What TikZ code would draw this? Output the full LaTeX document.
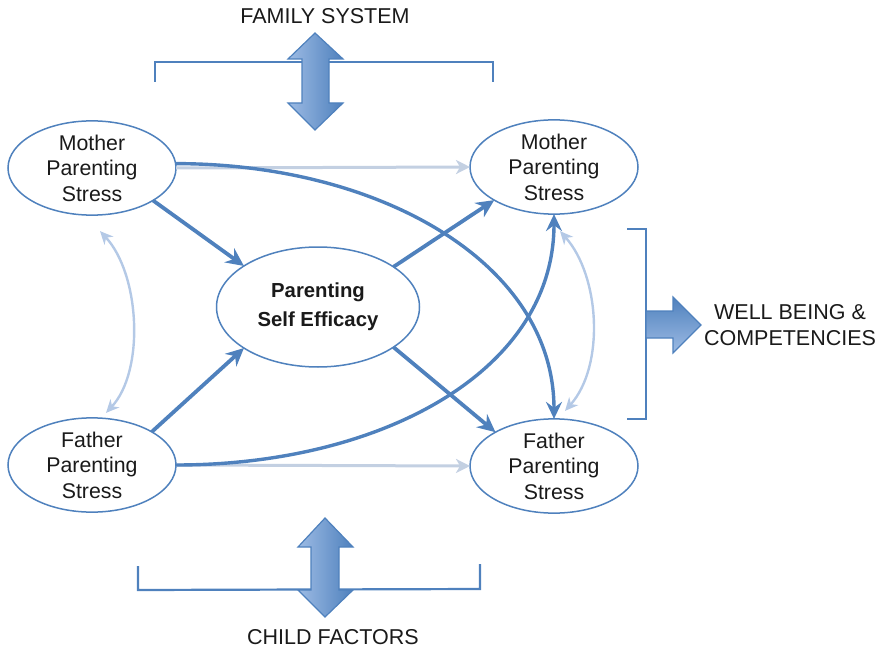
\documentclass[tikz,border=0pt]{standalone}
\usepackage{fontspec}
\setmainfont{Liberation Sans}
\usetikzlibrary{arrows.meta,shapes.geometric,calc}
\definecolor{mainblue}{HTML}{4F81BD}
\definecolor{paleblue}{HTML}{B4C9E6}
\definecolor{palegrey}{HTML}{C3D0E2}
\definecolor{lightfill}{HTML}{9DBBE4}
\definecolor{txt}{HTML}{1A1A1A}
\tikzset{
  x=1pt, y=-1pt,
  every node/.style={text=txt, font=\fontsize{21.3}{25.5}\selectfont},
  stress/.style={ellipse, draw=mainblue, line width=1.5pt, fill=white,
    minimum width=168pt, minimum height=92pt, inner sep=0pt, align=center, outer sep=0pt},
  efficacy/.style={ellipse, draw=mainblue, line width=1.5pt, fill=white,
    minimum width=203pt, minimum height=120pt, inner sep=0pt, align=center,
    font=\fontsize{20.3}{28.5}\selectfont\bfseries, outer sep=0pt},
  path/.style={draw=mainblue, line width=3.8pt,
    -{Stealth[length=18pt,width=17pt,inset=6pt]}},
  curvepath/.style={draw=mainblue, line width=3.4pt,
    -{Stealth[length=17pt,width=16pt,inset=6pt]}},
  faint/.style={draw=palegrey, line width=3pt,
    -{Stealth[length=14pt,width=14pt,inset=4pt]}},
  corr/.style={draw=paleblue, line width=2.4pt,
    {Stealth[length=13pt,width=12pt,inset=4pt]}-{Stealth[length=13pt,width=12pt,inset=4pt]}},
  bracket/.style={draw=mainblue, line width=2.2pt},
  bigarrow/.style={draw=mainblue, line width=1.2pt},
  caption/.style={font=\fontsize{21.5}{25.5}\selectfont, align=center}
}
\begin{document}
\begin{tikzpicture}
\useasboundingbox (0,0) rectangle (877,652);

% nodes
\node[stress] (ml) at (92,168) {Mother\\Parenting\\Stress};
\node[stress] (fl) at (92,465) {Father\\Parenting\\Stress};
\node[stress] (mr) at (554,167) {Mother\\Parenting\\Stress};
\node[stress] (fr) at (554,466) {Father\\Parenting\\Stress};
\node[efficacy] (pse) at (318,307) {Parenting\\Self Efficacy};

% faint stability paths
\draw[faint] (ml.0) -- (mr.180);
\draw[faint] (fl.0) -- (fr.180);

% correlations between parents
\draw[corr] ([shift={(8,16)}]ml.south) .. controls +(40,43) and +(39,-42) .. ([shift={(14,-5)}]fl.north);
\draw[corr] ([shift={(6,17)}]mr.south) .. controls +(40,45) and +(40,-45) .. ([shift={(11,-8)}]fr.north);

% paths through self efficacy
\draw[path] (ml.-28) -- (pse.151);
\draw[path] (fl.29) -- (pse.-151);
\draw[path] (pse.28) -- (mr.-151);
\draw[path] (pse.-28) -- (fr.150);

% cross-over paths
\draw[curvepath] (ml.3) .. controls +(204,0) and +(0,-156) .. (fr.north);
\draw[curvepath] (fl.0) .. controls +(204,0) and +(0,158) .. (mr.south);

% family system
\node[caption] (fam) at (325,16) {FAMILY SYSTEM};
\draw[bracket] (155,82) -- (155,62) -- (493,62) -- (493,82);
\path[bigarrow, left color=lightfill, right color=mainblue]
  (315,33) -- (343,59) -- (329,59) -- (329,103) -- (343,103) -- (315,130)
  -- (288,103) -- (302,103) -- (302,59) -- (288,59) -- cycle;

% child factors
\node[caption] (child) at (333,637) {CHILD FACTORS};
\draw[bracket] (138,566) -- (138,590) -- (480,589) -- (480,564);
\path[bigarrow, left color=lightfill, right color=mainblue]
  (325,518) -- (353,547) -- (339,547) -- (339,590) -- (353,590) -- (325,617)
  -- (298,590) -- (311,590) -- (311,547) -- (298,547) -- cycle;

% well being
\draw[bracket] (627,229) -- (646,229) -- (646,419) -- (627,419);
\path[bigarrow, top color=mainblue, bottom color=lightfill]
  (646,311) -- (673,311) -- (673,297) -- (701,325) -- (673,353) -- (673,338)
  -- (646,338) -- cycle;
\node[caption] (well) at (790,325) {WELL BEING \&\\COMPETENCIES};
\end{tikzpicture}
\end{document}
